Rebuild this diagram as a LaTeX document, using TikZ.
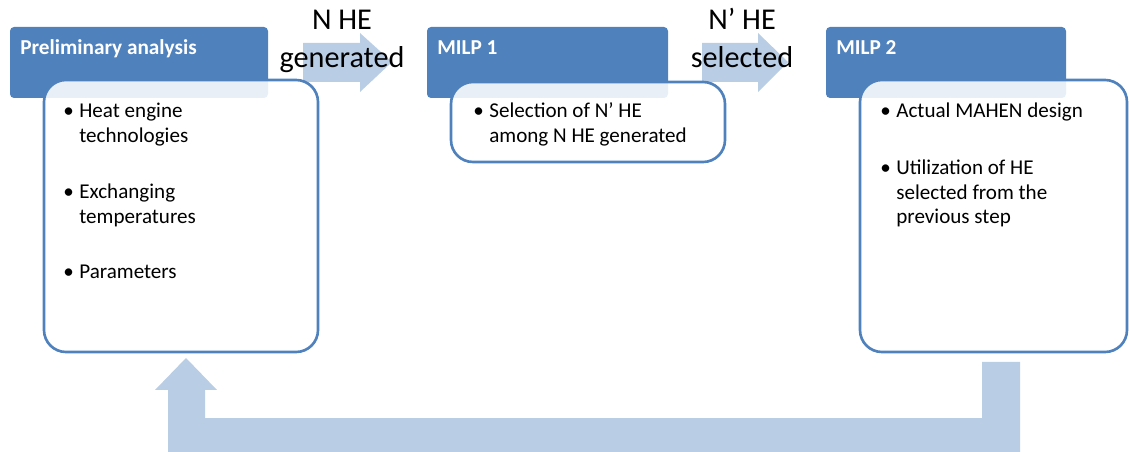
\documentclass[tikz,border=0pt]{standalone}
\usepackage{fontspec}
\setmainfont{Carlito}
\definecolor{hdrblue}{HTML}{4F81BD}
\definecolor{arrblue}{HTML}{B9CDE5}
\newcommand{\pitem}[1]{\begin{tabular}[t]{@{}p{9.1pt}@{}l@{}}\textbullet&#1\end{tabular}}
\begin{document}
\begin{tikzpicture}[x=0.02cm,y=-0.02cm,
  header/.style={fill=hdrblue,rounded corners=2.3pt},
  panel/.style={draw=hdrblue,line width=1.5pt,fill=white,fill opacity=0.88,rounded corners=12.5pt},
  flow/.style={fill=arrblue},
  title/.style={anchor=base west,inner sep=0pt,text=white,font=\bfseries\fontsize{12.1}{13.7}\selectfont},
  item/.style={anchor=base west,inner sep=0pt,font=\fontsize{12}{13.7}\selectfont},
  tag/.style={anchor=base,inner sep=0pt,font=\fontsize{17.2}{21.6}\selectfont}]
\useasboundingbox (0,0) rectangle (1129,452);
%
% forward arrows
\fill[flow] (303,43) -- (360,43) -- (360,33) -- (392,62) -- (360,92)
  -- (360,82) -- (303,82) -- cycle;
\fill[flow] (702,43) -- (758,43) -- (758,33) -- (788,62) -- (758,92)
  -- (758,82) -- (702,82) -- cycle;
%
% feedback arrow
\fill[flow] (1020,362) -- (1020,452) -- (168,452) -- (168,390) -- (155,390)
  -- (186,358) -- (217,390) -- (205,390) -- (205,418) -- (982,418)
  -- (982,362) -- cycle;
%
% Preliminary analysis
\fill[header] (10,27) rectangle (268,98);
\draw[panel] (44,80) rectangle (318,352);
\node[title] (pahead) at (20,55) {Preliminary analysis};
\node[item] (pa1) at (63,118) {\pitem{Heat engine\\&technologies}};
\node[item] (pa2) at (63,199) {\pitem{Exchanging\\&temperatures}};
\node[item] (pa3) at (63,279) {\pitem{Parameters}};
%
% MILP 1
\fill[header] (427,27) rectangle (668,98);
\draw[panel] (451,82) rectangle (725,162);
\node[title] (mahead) at (437,55) {MILP 1};
\node[item] (ma1) at (473,118) {\pitem{Selection of N’ HE\\&among N HE generated}};
%
% MILP 2
\fill[header] (826,27) rectangle (1066,98);
\draw[panel] (860,80) rectangle (1127,352);
\node[title] (mbhead) at (836,55) {MILP 2};
\node[item] (mb1) at (880,118) {\pitem{Actual MAHEN design}};
\node[item] (mb2) at (880,175) {\pitem{Utilization of HE\\&selected from the\\&previous step}};
%
% arrow labels
\node[tag] (gen) at (342,30) {\begin{tabular}[t]{@{}c@{}}N HE\\generated\end{tabular}};
\node[tag] (sel) at (742,30) {\begin{tabular}[t]{@{}c@{}}N’ HE\\selected\end{tabular}};
\end{tikzpicture}
\end{document}
